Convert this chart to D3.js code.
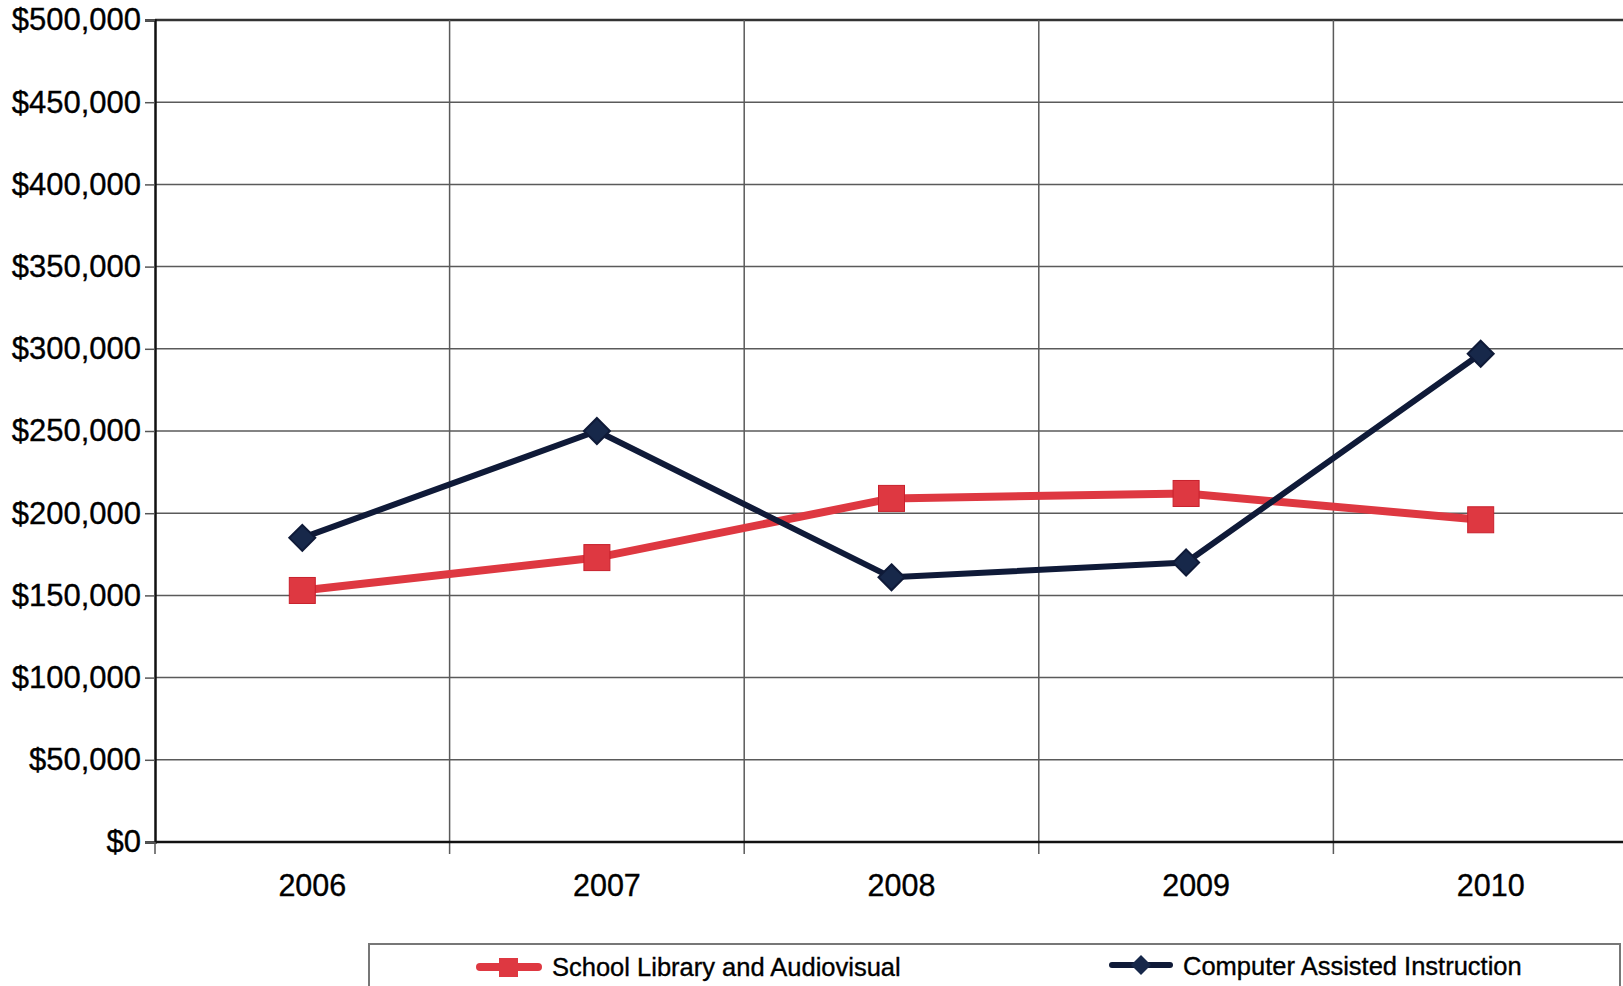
<!DOCTYPE html>
<html>
<head>
<meta charset="utf-8">
<script src="https://cdn.jsdelivr.net/npm/d3@7"></script>
<style>
  html, body { margin: 0; padding: 0; background: #fff; }
  svg { display: block; }
  text { font-family: "Liberation Sans", Arial, sans-serif; fill: #000; stroke: #000; stroke-width: 0.35px; }
</style>
</head>
<body>
<svg id="chart" width="1623" height="986"></svg>
<script>
const years = ["2006", "2007", "2008", "2009", "2010"];
const libraryValues = [153000, 173000, 209000, 212000, 196000];
const caiValues = [185000, 250000, 161000, 170000, 297000];
const yTicks = [0, 50000, 100000, 150000, 200000, 250000, 300000, 350000, 400000, 450000, 500000];
const seriesNames = ["School Library and Audiovisual", "Computer Assisted Instruction"];
const seriesColors = ["#de3841", "#0f1a38"];

(function () {
const svg = d3.select("#chart");
const pLeft = 155, pRight = 1628, pTop = 20, pBottom = 842;

const x = d3.scaleBand().domain(years).range([pLeft, pRight]).paddingInner(0).paddingOuter(0);
const y = d3.scaleLinear().domain([0, 500000]).range([pBottom, pTop]);
const fmt = v => "$" + d3.format(",")(v);

// horizontal gridlines
svg.append("g").selectAll("line").data(yTicks).join("line")
  .attr("x1", pLeft).attr("x2", 1623)
  .attr("y1", d => y(d)).attr("y2", d => y(d))
  .attr("stroke", d => d === 500000 ? "#333" : "#5a5a5a")
  .attr("stroke-width", d => d === 500000 ? 2.5 : 1.5);

// vertical gridlines (band boundaries)
const bounds = years.slice(1).map(d => x(d));
svg.append("g").selectAll("line").data(bounds).join("line")
  .attr("x1", d => d).attr("x2", d => d)
  .attr("y1", pTop).attr("y2", pBottom + 12)
  .attr("stroke", "#5a5a5a").attr("stroke-width", 1.5);

// y axis
const yAxis = d3.axisLeft(y).tickValues(yTicks).tickFormat(fmt).tickSize(10).tickPadding(4);
const gy = svg.append("g").attr("transform", `translate(${pLeft},0)`).call(yAxis);
gy.select(".domain").attr("stroke", "#111").attr("stroke-width", 2.5);
gy.selectAll(".tick line").attr("stroke", "#555").attr("stroke-width", 1.5);
gy.selectAll(".tick text").style("font-size", "31px").attr("fill", "#000");

// x axis
const xAxis = d3.axisBottom(x).tickSize(0).tickPadding(32);
const gx = svg.append("g").attr("transform", `translate(0,${pBottom})`).call(xAxis);
gx.select(".domain").remove();
gx.selectAll(".tick text").style("font-size", "30.5px").attr("fill", "#000").attr("dx", 10);
svg.append("line").attr("x1", pLeft).attr("x2", 1623).attr("y1", pBottom).attr("y2", pBottom)
  .attr("stroke", "#111").attr("stroke-width", 2.5);
svg.append("line").attr("x1", pLeft).attr("x2", pLeft).attr("y1", pBottom).attr("y2", pBottom + 12)
  .attr("stroke", "#555").attr("stroke-width", 1.5);

const cx = d => x(d) + x.bandwidth() / 2;
const line = d3.line().x(d => cx(d.year)).y(d => y(d.value));

const libData = years.map((yr, i) => ({ year: yr, value: libraryValues[i] }));
const caiData = years.map((yr, i) => ({ year: yr, value: caiValues[i] }));

// library series
svg.append("path").datum(libData).attr("d", line)
  .attr("fill", "none").attr("stroke", seriesColors[0]).attr("stroke-width", 8)
  .attr("stroke-linejoin", "round");
svg.append("g").selectAll("rect").data(libData).join("rect")
  .attr("x", d => cx(d.year) - 13).attr("y", d => y(d.value) - 13)
  .attr("width", 26).attr("height", 26)
  .attr("fill", seriesColors[0]).attr("stroke", "#c8202c").attr("stroke-width", 1);

// CAI series
svg.append("path").datum(caiData).attr("d", line)
  .attr("fill", "none").attr("stroke", seriesColors[1]).attr("stroke-width", 6)
  .attr("stroke-linejoin", "round");
const dsz = 13;
svg.append("g").selectAll("path").data(caiData).join("path")
  .attr("d", d => {
    const px = cx(d.year), py = y(d.value);
    return `M${px},${py - dsz}L${px + dsz},${py}L${px},${py + dsz}L${px - dsz},${py}Z`;
  })
  .attr("fill", "#17284a").attr("stroke", seriesColors[1]).attr("stroke-width", 2);

// legend
const lg = svg.append("g");
lg.append("rect").attr("x", 369).attr("y", 944).attr("width", 1251).attr("height", 60)
  .attr("fill", "#fff").attr("stroke", "#777").attr("stroke-width", 2);

lg.append("line").attr("x1", 480).attr("x2", 538).attr("y1", 967).attr("y2", 967)
  .attr("stroke", seriesColors[0]).attr("stroke-width", 8).attr("stroke-linecap", "round");
lg.append("rect").attr("x", 499).attr("y", 958).attr("width", 19).attr("height", 19)
  .attr("fill", seriesColors[0]);
lg.append("text").attr("x", 552).attr("y", 976).style("font-size", "25.5px").text(seriesNames[0]);

lg.append("line").attr("x1", 1112).attr("x2", 1170).attr("y1", 965).attr("y2", 965)
  .attr("stroke", seriesColors[1]).attr("stroke-width", 6).attr("stroke-linecap", "round");
lg.append("path").attr("d", "M1141,955L1151,965L1141,975L1131,965Z").attr("fill", "#17284a");
lg.append("text").attr("x", 1183).attr("y", 975).style("font-size", "25.5px").text(seriesNames[1]);
})();
</script>
</body>
</html>
